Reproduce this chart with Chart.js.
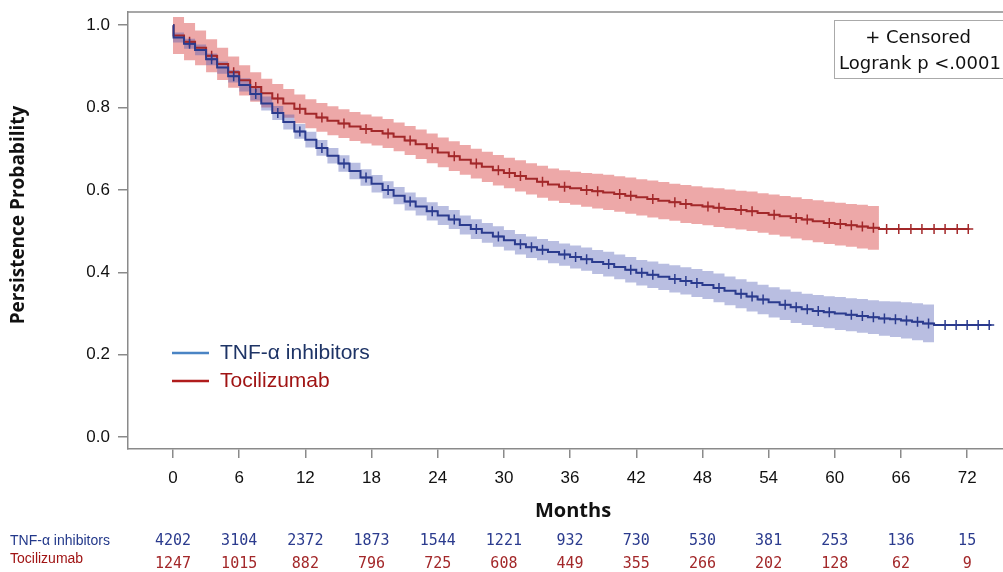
<!DOCTYPE html>
<html lang="en">
<head>
<meta charset="UTF-8">
<title>Persistence KM</title>
<script src="https://cdn.jsdelivr.net/npm/chart.js"></script>
<style>
  body { margin: 0; background: #fff; overflow: hidden; }
</style>
</head>
<body>
<canvas id="km" width="1003" height="572"></canvas>
<script>
// ---- data ----
const tickMonths = [0, 6, 12, 18, 24, 30, 36, 42, 48, 54, 60, 66, 72];
const yTicks = [0, 0.2, 0.4, 0.6, 0.8, 1.0];
const startSurv = 1.0;

// TNF-a inhibitors: survival at each monthly step (month 0..69)
const tnfSurv = [0.970, 0.955, 0.940, 0.917, 0.897, 0.876, 0.855, 0.833, 0.810, 0.787,
  0.765, 0.742, 0.722, 0.702, 0.683, 0.664, 0.646, 0.630, 0.615, 0.600,
  0.586, 0.572, 0.560, 0.548, 0.538, 0.528, 0.515, 0.505, 0.496, 0.487,
  0.478, 0.468, 0.461, 0.455, 0.449, 0.443, 0.437, 0.432, 0.425, 0.420,
  0.413, 0.406, 0.399, 0.394, 0.389, 0.384, 0.379, 0.374, 0.369, 0.362,
  0.355, 0.348, 0.341, 0.334, 0.327, 0.321, 0.315, 0.310, 0.306, 0.303,
  0.300, 0.297, 0.294, 0.291, 0.288, 0.286, 0.283, 0.280, 0.276, 0.272];
// half width of the confidence band at each step
const tnfBand = [0.012, 0.012, 0.013, 0.014, 0.015, 0.015, 0.016, 0.016, 0.017, 0.017,
  0.018, 0.018, 0.019, 0.019, 0.019, 0.020, 0.020, 0.020, 0.021, 0.021,
  0.021, 0.022, 0.022, 0.022, 0.023, 0.023, 0.023, 0.024, 0.024, 0.025,
  0.025, 0.025, 0.026, 0.026, 0.027, 0.027, 0.028, 0.028, 0.029, 0.030,
  0.030, 0.031, 0.031, 0.032, 0.032, 0.033, 0.033, 0.034, 0.034, 0.035,
  0.035, 0.035, 0.036, 0.036, 0.037, 0.037, 0.038, 0.038, 0.039, 0.039,
  0.040, 0.040, 0.041, 0.041, 0.042, 0.043, 0.044, 0.045, 0.046, 0.046];
const tnfEnd = 74.2;
const tnfCensor = [1.5, 3.5, 5.5, 7.5, 9.5, 11.5, 13.5, 15.5, 17.5, 19.5, 21.5, 23.5,
  25.5, 27.5, 29.5, 31.5, 32.5, 33.5, 35.5, 36.5, 37.5, 39.5, 41.5, 42.5, 43.5, 45.5,
  46.5, 47.5, 49.5, 51.5, 52.5, 53.5, 55.5, 56.5, 57.5, 58.5, 59.5, 61.5, 62.5, 63.5,
  64.5, 65.5, 66.5, 67.5, 68.5, 70.0, 71.0, 72.0, 73.0, 74.0];

// Tocilizumab: survival at each monthly step (month 0..64)
const tczSurv = [0.975, 0.960, 0.945, 0.926, 0.906, 0.886, 0.866, 0.850, 0.835, 0.822,
  0.810, 0.797, 0.785, 0.776, 0.768, 0.761, 0.754, 0.748, 0.743, 0.737,
  0.729, 0.720, 0.711, 0.701, 0.691, 0.682, 0.673, 0.664, 0.656, 0.648,
  0.641, 0.634, 0.627, 0.620, 0.613, 0.608, 0.604, 0.600, 0.597, 0.594,
  0.590, 0.586, 0.582, 0.578, 0.574, 0.570, 0.566, 0.563, 0.560, 0.557,
  0.554, 0.551, 0.548, 0.544, 0.540, 0.536, 0.532, 0.528, 0.524, 0.520,
  0.517, 0.514, 0.511, 0.508, 0.505];
const tczBand = [0.045, 0.045, 0.042, 0.040, 0.039, 0.038, 0.037, 0.036, 0.035, 0.035,
  0.035, 0.035, 0.035, 0.035, 0.035, 0.035, 0.035, 0.035, 0.035, 0.035,
  0.035, 0.035, 0.036, 0.036, 0.036, 0.036, 0.036, 0.036, 0.037, 0.037,
  0.037, 0.038, 0.038, 0.039, 0.039, 0.040, 0.040, 0.041, 0.042, 0.043,
  0.043, 0.044, 0.044, 0.045, 0.045, 0.045, 0.046, 0.046, 0.046, 0.047,
  0.047, 0.047, 0.048, 0.048, 0.049, 0.049, 0.050, 0.050, 0.051, 0.051,
  0.052, 0.052, 0.053, 0.053, 0.053];
const tczEnd = 72.2;
const tczCensor = [1.5, 3.5, 5.5, 7.5, 9.5, 11.5, 13.5, 15.5, 17.5, 19.5, 21.5, 23.5,
  25.5, 27.5, 29.5, 30.5, 31.5, 33.5, 35.5, 37.5, 38.5, 40.5, 41.5, 43.5, 45.5, 46.5,
  48.5, 49.5, 51.5, 52.5, 54.5, 56.5, 57.5, 59.5, 60.5, 61.5, 62.5, 63.5,
  64.7, 65.8, 66.9, 67.9, 69.0, 70.0, 71.1, 72.1];

// numbers at risk
const tnfAtRisk = [4202, 3104, 2372, 1873, 1544, 1221, 932, 730, 530, 381, 253, 136, 15];
const tczAtRisk = [1247, 1015, 882, 796, 725, 608, 449, 355, 266, 202, 128, 62, 9];

const TNF_LINE = '#2b3b8e';
const TCZ_LINE = '#a3282a';
const AXIS = '#8a8a8a';

// KM line: starts at 1.0, first drop right after time 0, then monthly steps
function stepPoints(surv, end) {
  const pts = [{ x: 0, y: startSurv }, { x: 0.05, y: surv[0] }];
  surv.forEach((v, i) => { if (i > 0) pts.push({ x: i, y: v }); });
  pts.push({ x: end, y: surv[surv.length - 1] });
  return pts;
}
function bandPoints(surv, hw, sign) {
  return surv.map((v, i) => ({ x: i, y: v + sign * hw[i] }));
}
function censorPoints(surv, times) {
  return times.map(t => {
    const i = Math.min(surv.length - 1, Math.floor(t));
    return { x: t, y: surv[i] };
  });
}

const decor = {
  id: 'decor',
  afterDraw(chart) {
    const { ctx, chartArea: a, scales } = chart;
    const xs = scales.x;
    ctx.save();
    // top frame line
    ctx.strokeStyle = AXIS;
    ctx.lineWidth = 1.5;
    ctx.beginPath();
    ctx.moveTo(a.left, a.top);
    ctx.lineTo(a.right, a.top);
    ctx.stroke();

    // censored / logrank box
    ctx.fillStyle = '#fff';
    ctx.fillRect(834, 20, 180, 58);
    ctx.strokeStyle = '#aaa';
    ctx.lineWidth = 1;
    ctx.strokeRect(834.5, 20.5, 180, 58);
    ctx.fillStyle = '#111';
    ctx.font = '18px "DejaVu Sans", sans-serif';
    ctx.textBaseline = 'middle';
    ctx.textAlign = 'center';
    ctx.fillText('+ Censored', 918, 38);
    ctx.textAlign = 'left';
    ctx.fillText('Logrank p <.0001', 839, 64);

    // legend
    ctx.lineWidth = 2.5;
    ctx.strokeStyle = '#4a84c4';
    ctx.beginPath(); ctx.moveTo(172, 353); ctx.lineTo(209, 353); ctx.stroke();
    ctx.strokeStyle = '#b01c1c';
    ctx.beginPath(); ctx.moveTo(172, 381); ctx.lineTo(209, 381); ctx.stroke();
    ctx.font = '21px "Liberation Sans", Arial, sans-serif';
    ctx.fillStyle = '#1e3466';
    ctx.fillText('TNF-\u03b1 inhibitors', 220, 353);
    ctx.fillStyle = '#a01414';
    ctx.fillText('Tocilizumab', 220, 381);

    // axis titles
    ctx.fillStyle = '#111';
    ctx.font = 'bold 20px "Open Sans", "Liberation Sans", sans-serif';
    ctx.textAlign = 'center';
    ctx.fillText('Months', 573, 511);
    ctx.font = 'bold 19px "Open Sans", "Liberation Sans", sans-serif';
    ctx.save();
    ctx.translate(19, 215);
    ctx.rotate(-Math.PI / 2);
    ctx.fillText('Persistence Probability', 0, 0);
    ctx.restore();

    // numbers at risk
    ctx.textAlign = 'left';
    ctx.font = '14px "Liberation Sans Narrow", "Liberation Sans", Arial, sans-serif';
    ctx.fillStyle = '#22388a';
    ctx.fillText('TNF-\u03b1 inhibitors', 10, 541);
    ctx.fillStyle = '#a01414';
    ctx.fillText('Tocilizumab', 10, 559);
    ctx.textAlign = 'center';
    ctx.font = '15px "DejaVu Sans Mono", monospace';
    tickMonths.forEach((m, i) => {
      const px = xs.getPixelForValue(m);
      ctx.fillStyle = '#2b3b8e';
      ctx.fillText(String(tnfAtRisk[i]), px, 541);
      ctx.fillStyle = '#a3282a';
      ctx.fillText(String(tczAtRisk[i]), px, 564);
    });
    ctx.restore();
  }
};

const ctx = document.getElementById('km').getContext('2d');
new Chart(ctx, {
  type: 'line',
  data: {
    datasets: [
      { label: 'TNF censored', type: 'scatter', data: censorPoints(tnfSurv, tnfCensor),
        pointStyle: 'cross', radius: 5, borderColor: TNF_LINE, borderWidth: 1.5, order: 0 },
      { label: 'TCZ censored', type: 'scatter', data: censorPoints(tczSurv, tczCensor),
        pointStyle: 'cross', radius: 5, borderColor: TCZ_LINE, borderWidth: 1.5, order: 0 },
      { label: 'TNF-\u03b1 inhibitors', data: stepPoints(tnfSurv, tnfEnd), stepped: 'before',
        borderColor: TNF_LINE, borderWidth: 2, pointRadius: 0, fill: false, order: 1 },
      { label: 'Tocilizumab', data: stepPoints(tczSurv, tczEnd), stepped: 'before',
        borderColor: TCZ_LINE, borderWidth: 2, pointRadius: 0, fill: false, order: 1 },
      { label: 'TNF upper', data: bandPoints(tnfSurv, tnfBand, 1), stepped: 'before',
        borderWidth: 0, pointRadius: 0, fill: '+1', backgroundColor: 'rgba(70,85,175,0.38)', order: 2 },
      { label: 'TNF lower', data: bandPoints(tnfSurv, tnfBand, -1), stepped: 'before',
        borderWidth: 0, pointRadius: 0, fill: false, order: 2 },
      { label: 'TCZ upper', data: bandPoints(tczSurv, tczBand, 1), stepped: 'before',
        borderWidth: 0, pointRadius: 0, fill: '+1', backgroundColor: 'rgba(214,62,62,0.45)', order: 3 },
      { label: 'TCZ lower', data: bandPoints(tczSurv, tczBand, -1), stepped: 'before',
        borderWidth: 0, pointRadius: 0, fill: false, order: 3 }
    ]
  },
  options: {
    responsive: false,
    animation: false,
    layout: { autoPadding: false, padding: { top: 12, left: 0, right: 0, bottom: 0 } },
    plugins: { legend: { display: false }, tooltip: { enabled: false } },
    scales: {
      x: {
        type: 'linear', min: -4.08, max: 75.25,
        afterFit: s => { s.height = 123; s.paddingLeft = 0; s.paddingRight = 0; },
        afterBuildTicks: s => { s.ticks = tickMonths.map(v => ({ value: v })); },
        grid: { drawOnChartArea: false, drawTicks: true, tickLength: 9, color: AXIS, lineWidth: 1.5 },
        border: { color: AXIS, width: 1.5 },
        ticks: { color: '#111', padding: 10, maxRotation: 0,
          font: { family: '"Liberation Sans", Arial, sans-serif', size: 17 } }
      },
      y: {
        min: -0.029, max: 1.032,
        afterFit: s => { s.width = 128; s.paddingTop = 0; s.paddingBottom = 0; },
        afterBuildTicks: s => { s.ticks = yTicks.map(v => ({ value: v })); },
        grid: { drawOnChartArea: false, drawTicks: true, tickLength: 10, color: AXIS, lineWidth: 1.5 },
        border: { color: AXIS, width: 1.5 },
        ticks: { color: '#111', padding: 8, callback: v => v.toFixed(1),
          font: { family: '"Liberation Sans", Arial, sans-serif', size: 17 } }
      }
    }
  },
  plugins: [decor]
});
</script>
</body>
</html>
